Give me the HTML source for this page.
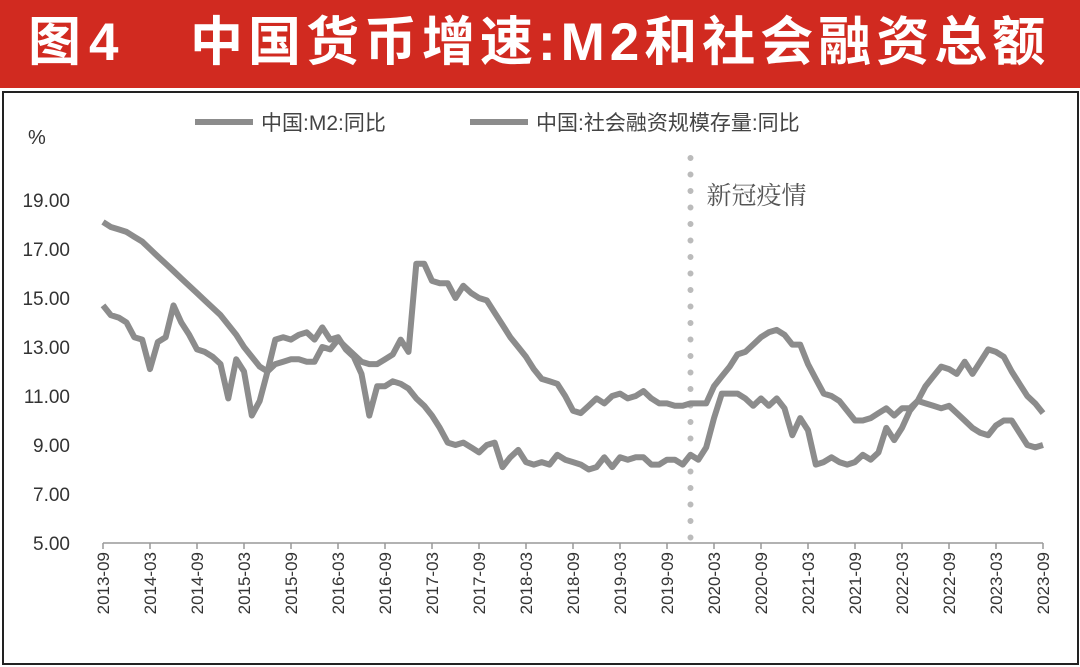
<!DOCTYPE html>
<html><head><meta charset="utf-8"><style>
body{margin:0;width:1080px;height:667px;background:#fff;overflow:hidden;font-family:"Liberation Sans","Noto Sans CJK SC",sans-serif}
#hdr{position:absolute;left:0;top:0;width:1080px;height:88px;background:#d12a20;color:#fff;font-weight:bold;font-size:53px;line-height:86px}
#frame{position:absolute;left:2px;top:91px;width:1073px;height:570px;border:2px solid #222}
</style></head><body>
<div id="hdr"><span style="position:absolute;left:28px;letter-spacing:8px">图4</span><span style="position:absolute;left:190px;letter-spacing:5px;white-space:nowrap">中国货币增速:M2和社会融资总额</span></div>
<div id="frame"></div>
<svg id="chart" width="1080" height="667" style="position:absolute;left:0;top:0"></svg>
<script>
const yTicks=[5,7,9,11,13,15,17,19];
const xTickLabels=["2013-09","2014-03","2014-09","2015-03","2015-09","2016-03","2016-09","2017-03","2017-09","2018-03","2018-09","2019-03","2019-09","2020-03","2020-09","2021-03","2021-09","2022-03","2022-09","2023-03","2023-09"];
const m2=[14.7,14.3,14.2,14.0,13.4,13.3,12.1,13.2,13.4,14.7,14.0,13.5,12.9,12.8,12.6,12.3,10.9,12.5,12.0,10.2,10.8,12.0,13.3,13.4,13.3,13.5,13.6,13.3,13.8,13.3,13.4,12.9,12.6,11.9,10.2,11.4,11.4,11.6,11.5,11.3,10.9,10.6,10.2,9.7,9.1,9.0,9.1,8.9,8.7,9.0,9.1,8.1,8.5,8.8,8.3,8.2,8.3,8.2,8.6,8.4,8.3,8.2,8.0,8.1,8.5,8.1,8.5,8.4,8.5,8.5,8.2,8.2,8.4,8.4,8.2,8.6,8.4,8.9,10.1,11.1,11.1,11.1,10.9,10.6,10.9,10.6,10.9,10.5,9.4,10.1,9.6,8.2,8.3,8.5,8.3,8.2,8.3,8.6,8.4,8.7,9.7,9.2,9.7,10.4,10.8,11.4,11.8,12.2,12.1,11.9,12.4,11.9,12.4,12.9,12.8,12.6,12.0,11.5,11.0,10.7,10.3];
const tsf=[18.1,17.9,17.8,17.7,17.5,17.3,17.0,16.7,16.4,16.1,15.8,15.5,15.2,14.9,14.6,14.3,13.9,13.5,13.0,12.6,12.2,12.0,12.3,12.4,12.5,12.5,12.4,12.4,13.0,12.9,13.3,13.0,12.7,12.4,12.3,12.3,12.5,12.7,13.3,12.8,16.4,16.4,15.7,15.6,15.6,15.0,15.5,15.2,15.0,14.9,14.4,13.9,13.4,13.0,12.6,12.1,11.7,11.6,11.5,11.0,10.4,10.3,10.6,10.9,10.7,11.0,11.1,10.9,11.0,11.2,10.9,10.7,10.7,10.6,10.6,10.7,10.7,10.7,11.4,11.8,12.2,12.7,12.8,13.1,13.4,13.6,13.7,13.5,13.1,13.1,12.3,11.7,11.1,11.0,10.8,10.4,10.0,10.0,10.1,10.3,10.5,10.2,10.5,10.5,10.8,10.7,10.6,10.5,10.6,10.3,10.0,9.7,9.5,9.4,9.8,10.0,10.0,9.5,9.0,8.9,9.0];
const covidMonth=75;
const svg=document.getElementById('chart');const NS='http://www.w3.org/2000/svg';
const X0=103,X1=1043,Y0=543;
const xs=m=>X0+(X1-X0)*m/120;
const ys=v=>Y0-(v-5)*24.5;
function mk(t,a){const e=document.createElementNS(NS,t);for(const k in a)e.setAttribute(k,a[k]);svg.appendChild(e);return e;}
yTicks.forEach(v=>{const t=mk('text',{x:70,y:ys(v)+7,'text-anchor':'end','font-size':19,fill:'#333'});t.textContent=v.toFixed(2);

});
const pc=mk('text',{x:28,y:144,'font-size':20,fill:'#333'});pc.textContent='%';


const ax=mk('line',{x1:X0,y1:Y0,x2:X1,y2:Y0,stroke:'#999','stroke-width':1.5});


xTickLabels.forEach((l,i)=>{const x=xs(i*6);
const tk=mk('line',{x1:x,y1:Y0,x2:x,y2:Y0+6,stroke:'#999','stroke-width':1.5});


const t=mk('text',{x:0,y:0,'text-anchor':'end','font-size':17,fill:'#333',transform:`translate(${x+6},552) rotate(-90)`});t.textContent=l;

});
const cx=xs(covidMonth);
const dl=mk('line',{x1:cx,y1:158,x2:cx,y2:Y0,stroke:'#bbb','stroke-width':6,'stroke-linecap':'round','stroke-dasharray':'0 16.5'});


const ct=mk('text',{x:cx+16,y:204,'font-size':25,fill:'#555','font-family':'"Liberation Serif","Noto Serif CJK SC",serif'});ct.textContent='新冠疫情';


function line(arr,name){const d=arr.map((v,i)=>(i?'L':'M')+xs(i).toFixed(1)+','+ys(v).toFixed(1)).join('');
const p=mk('path',{d:d,fill:'none',stroke:'#8c8c8c','stroke-width':6,'stroke-linejoin':'round'});

}
line(tsf,'tsf-yoy-line');line(m2,'m2-yoy-line');
[[195,'中国:M2:同比','legend-m2'],[470,'中国:社会融资规模存量:同比','legend-tsf']].forEach(([x,l,n])=>{
const g=mk('line',{x1:x,y1:122,x2:x+58,y2:122,stroke:'#8c8c8c','stroke-width':6});


const t=mk('text',{x:x+66,y:130,'font-size':21,fill:'#444'});t.textContent=l;

});
</script>
</body></html>
